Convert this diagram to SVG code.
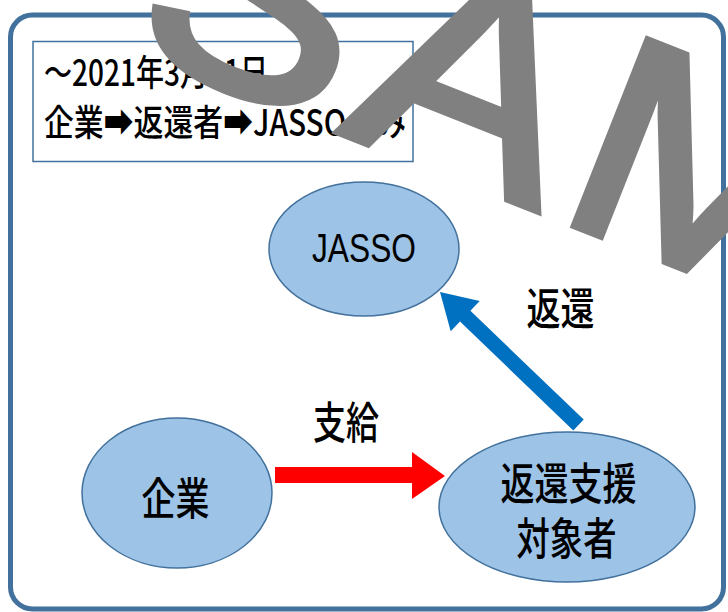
<svg xmlns="http://www.w3.org/2000/svg" width="728" height="612" viewBox="0 0 728 612">
<style>
.node{fill:#9DC3E6;stroke:#41719C;stroke-width:1.5}
.jp{font-family:"Noto Sans CJK JP","Noto Sans",sans-serif;font-weight:500;fill:#000}
.lat{font-family:"Liberation Sans",Arial,sans-serif;fill:#000}
.wm{font-family:"Liberation Sans",Arial,sans-serif;fill:#808080;stroke:#808080;stroke-width:8;stroke-linejoin:miter}
</style>
<rect id="frame" x="10.5" y="15" width="713" height="594" rx="22" ry="22" fill="#fff" stroke="#41719C" stroke-width="5"/>
<g id="note">
<rect x="33" y="41.5" width="380" height="120" fill="#fff" stroke="#41719C" stroke-width="1.5"/>
<text class="jp" x="44" y="86" font-size="36" textLength="224" lengthAdjust="spacingAndGlyphs">～2021年3月31日</text>
<text class="jp" x="44" y="136" font-size="36" textLength="362" lengthAdjust="spacingAndGlyphs">企業➡返還者➡JASSOのみ</text>
</g>
<g id="connectors">
<polygon points="275,467 412,467 412,452 445,476 412,499 412,483 275,483" fill="#FF0000"/>
<polygon points="440,292 479.7,301.1 470.4,310.8 583.7,419.6 573.3,430.4 460,321.6 450.7,331.3" fill="#0070C0"/>
<text class="jp" x="313" y="439" font-size="44" textLength="66" lengthAdjust="spacingAndGlyphs">支給</text>
<text class="jp" x="526.5" y="325" font-size="44" textLength="68" lengthAdjust="spacingAndGlyphs">返還</text>
</g>
<g id="jasso">
<ellipse class="node" cx="364" cy="249" rx="95" ry="67"/>
<text class="lat" x="312" y="262" font-size="40" textLength="104" lengthAdjust="spacingAndGlyphs">JASSO</text>
</g>
<g id="kigyo">
<ellipse class="node" cx="177" cy="493" rx="95" ry="75"/>
<text class="jp" x="141.5" y="515" font-size="44" textLength="68" lengthAdjust="spacingAndGlyphs">企業</text>
</g>
<g id="taishosha">
<ellipse class="node" cx="567" cy="507" rx="128" ry="75"/>
<text class="jp" x="500.5" y="500" font-size="44" textLength="136" lengthAdjust="spacingAndGlyphs">返還支援</text>
<text class="jp" x="516.5" y="555" font-size="44" textLength="100" lengthAdjust="spacingAndGlyphs">対象者</text>
</g>
<text class="wm" transform="translate(125.3,47.4) rotate(21.6) scale(1.113,1)" font-size="289" letter-spacing="12.8">SAMPLE</text>
</svg>
